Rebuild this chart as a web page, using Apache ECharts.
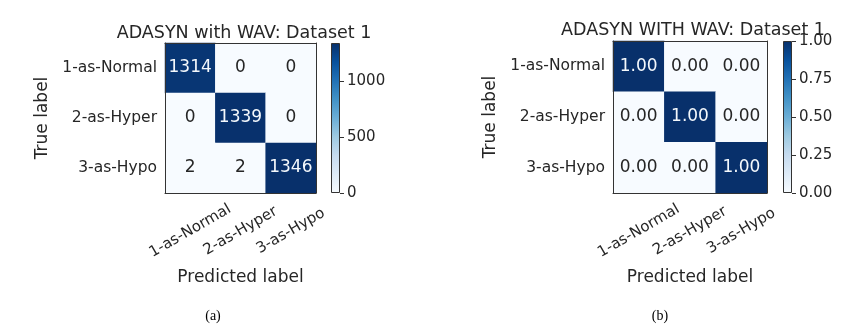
<!DOCTYPE html>
<html>
<head>
<meta charset="utf-8">
<script src="https://cdn.jsdelivr.net/npm/echarts@6/dist/echarts.min.js"></script>
<style>
  html, body { margin: 0; padding: 0; background: #fff; }
  #chart { width: 860px; height: 324px; }
</style>
</head>
<body>
<div id="chart"></div>
<script>
var classes = ['1-as-Normal', '2-as-Hyper', '3-as-Hypo'];
// rows = true label, columns = predicted label
var countsA = [
  [1314, 0, 0],
  [0, 1339, 0],
  [2, 2, 1346]
];
var normB = [
  [1.00, 0.00, 0.00],
  [0.00, 1.00, 0.00],
  [0.00, 0.00, 1.00]
];
var maxA = 1346;
var maxB = 1;
var ticksA = [0, 500, 1000];
var ticksB = [0, 0.25, 0.5, 0.75, 1.0];

var blues = ['#f7fbff', '#deebf7', '#c6dbef', '#9ecae1', '#6baed6', '#4292c6', '#2171b5', '#08519c', '#08306b'];
var font = 'DejaVu Sans';
var ink = '#262626';

function cells(matrix, max, digits) {
  var out = [];
  matrix.forEach(function (row, r) {
    row.forEach(function (v, c) {
      out.push({
        value: [c, r, v],
        label: { color: v > max / 2 ? '#f4f8fc' : ink },
        txt: digits ? v.toFixed(digits) : String(v)
      });
    });
  });
  return out;
}

function gradient() {
  var stops = [];
  for (var i = 0; i < blues.length; i++) {
    stops.push({ offset: 1 - i / (blues.length - 1), color: blues[i] });
  }
  return { type: 'linear', x: 0, y: 0, x2: 0, y2: 1, colorStops: stops.reverse() };
}

function heatX(idx, nameGap) {
  return {
    type: 'category', gridIndex: idx, data: classes, z: 5,
    axisLine: { lineStyle: { color: '#333', width: 1 } },
    axisTick: { alignWithLabel: true, length: 5, lineStyle: { color: '#333' } },
    axisLabel: { rotate: 30, margin: 38, align: 'center', verticalAlign: 'middle',
      fontSize: 15, fontFamily: font, color: ink, interval: 0 },
    name: 'Predicted label', nameLocation: 'middle', nameGap: nameGap,
    nameTextStyle: { fontSize: 17, fontFamily: font, color: ink },
    splitLine: { show: false }
  };
}
function heatY(idx, nameGap) {
  return {
    type: 'category', gridIndex: idx, data: classes, inverse: true, z: 5,
    axisLine: { lineStyle: { color: '#333', width: 1 } },
    axisTick: { alignWithLabel: true, length: 5, lineStyle: { color: '#333' } },
    axisLabel: { margin: 8, fontSize: 15.5, fontFamily: font, color: ink, interval: 0 },
    name: 'True label', nameLocation: 'middle', nameGap: nameGap, nameRotate: 90,
    nameTextStyle: { fontSize: 17, fontFamily: font, color: ink },
    splitLine: { show: false }
  };
}
function frameX(idx) {
  return { type: 'category', gridIndex: idx, data: classes, position: 'top', z: 5,
    axisLine: { lineStyle: { color: '#333' } }, axisTick: { show: false }, axisLabel: { show: false } };
}
function frameY(idx) {
  return { type: 'category', gridIndex: idx, data: classes, position: 'right', inverse: true, z: 5,
    axisLine: { lineStyle: { color: '#333' } }, axisTick: { show: false }, axisLabel: { show: false } };
}
function barX(idx) {
  return { type: 'category', gridIndex: idx, data: ['c'], show: false };
}
function barY(idx, max, interval, digits) {
  return {
    type: 'value', gridIndex: idx, min: 0, max: max, interval: interval, position: 'right', z: 5,
    axisLine: { show: false },
    axisTick: { show: true, length: 4, lineStyle: { color: '#333' } },
    axisLabel: { margin: 7, fontSize: 15, fontFamily: font, color: ink, showMaxLabel: digits > 0,
      formatter: function (v) { return digits ? v.toFixed(digits) : String(v); } },
    splitLine: { show: false }
  };
}

var dataA = cells(countsA, maxA, 0);
var dataB = cells(normB, maxB, 2);

var option = {
  backgroundColor: '#fff',
  animation: false,
  title: [
    { text: 'ADASYN with WAV: Dataset 1', left: 239, top: 19, textAlign: 'center',
      textStyle: { fontSize: 17.5, fontWeight: 'normal', fontFamily: font, color: ink } },
    { text: 'ADASYN WITH WAV: Dataset 1', left: 688, top: 16, textAlign: 'center',
      textStyle: { fontSize: 17.5, fontWeight: 'normal', fontFamily: font, color: ink } },
    { text: '(a)', left: 208, top: 304, textAlign: 'center',
      textStyle: { fontSize: 14, fontWeight: 'normal', fontFamily: 'Liberation Serif', color: '#000' } },
    { text: '(b)', left: 655, top: 304, textAlign: 'center',
      textStyle: { fontSize: 14, fontWeight: 'normal', fontFamily: 'Liberation Serif', color: '#000' } }
  ],
  grid: [
    { left: 165, top: 43, width: 151, height: 150 },
    { left: 331, top: 43, width: 9, height: 150 },
    { left: 613, top: 41, width: 154, height: 152 },
    { left: 783, top: 41, width: 9, height: 152 }
  ],
  xAxis: [heatX(0, 76), frameX(0), barX(1), heatX(2, 76), frameX(2), barX(3)],
  yAxis: [heatY(0, 114), frameY(0), barY(1, maxA, 500, 0), heatY(2, 114), frameY(2), barY(3, maxB, 0.25, 2)],
  visualMap: [
    { show: false, type: 'continuous', min: 0, max: maxA, seriesIndex: 0, dimension: 2, inRange: { color: blues } },
    { show: false, type: 'continuous', min: 0, max: maxB, seriesIndex: 2, dimension: 2, inRange: { color: blues } }
  ],
  series: [
    {
      type: 'heatmap', xAxisIndex: 0, yAxisIndex: 0, data: dataA,
      label: { show: true, fontSize: 17, fontFamily: font,
        formatter: function (p) { return p.data.txt; } }
    },
    {
      type: 'bar', xAxisIndex: 2, yAxisIndex: 2, data: [maxA], barWidth: '100%',
      itemStyle: { color: gradient(), borderColor: '#333', borderWidth: 1 }
    },
    {
      type: 'heatmap', xAxisIndex: 3, yAxisIndex: 3, data: dataB,
      label: { show: true, fontSize: 17, fontFamily: font,
        formatter: function (p) { return p.data.txt; } }
    },
    {
      type: 'bar', xAxisIndex: 5, yAxisIndex: 5, data: [maxB], barWidth: '100%',
      itemStyle: { color: gradient(), borderColor: '#333', borderWidth: 1 }
    }
  ]
};

var chart = echarts.init(document.getElementById('chart'), null, { renderer: 'canvas' });
chart.setOption(option);
</script>
</body>
</html>
